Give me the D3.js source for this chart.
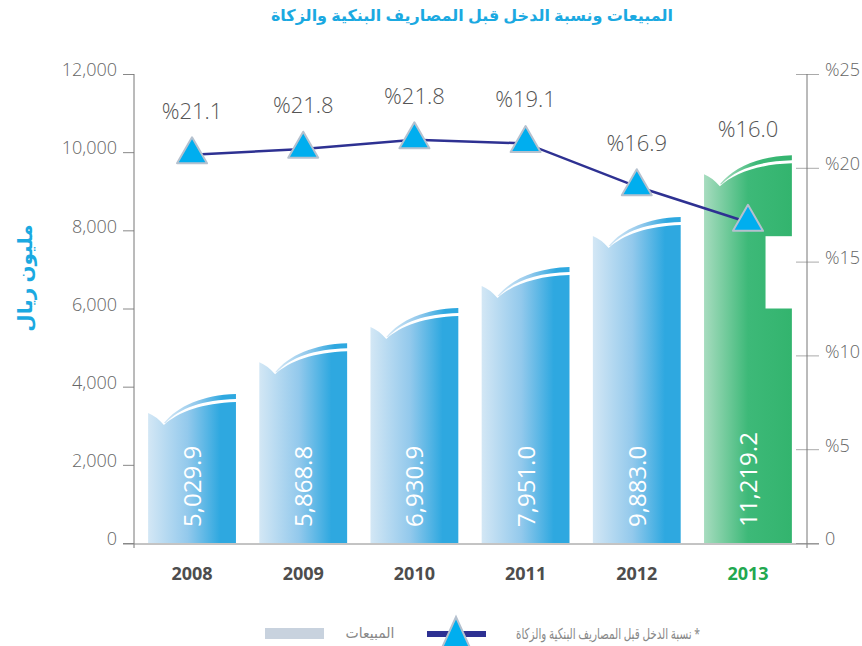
<!DOCTYPE html>
<html>
<head>
<meta charset="utf-8">
<script src="https://cdn.jsdelivr.net/npm/d3@7"></script>
<style>
  body { margin: 0; background: #fff; }
  text { font-family: "Open Sans", "DejaVu Sans", sans-serif; }
  .ar { font-family: "Noto Sans", "DejaVu Sans", sans-serif; }
</style>
</head>
<body>
<div id="chart"></div>
<script>
// data
var years = ["2008", "2009", "2010", "2011", "2012", "2013"];
var sales = [5029.9, 5868.8, 6930.9, 7951.0, 9883.0, 11219.2];
// bar tops as drawn, read on the left axis (the picture does not draw them to scale)
var salesDrawn = [3810, 5110, 6010, 7060, 8340, 9920];
var ratio = [21.1, 21.8, 21.8, 19.1, 16.9, 16.0];
// line points as drawn, read on the right axis
var ratioDrawn = [20.7, 21.0, 21.5, 21.3, 19.0, 17.1];
var leftTicks = [0, 2000, 4000, 6000, 8000, 10000, 12000];
var rightTicks = [0, 5, 10, 15, 20, 25];

var svgWidth = 862;
var svgHeight = 646;

var svg = d3.select("#chart")
  .append("svg")
  .attr("width", svgWidth)
  .attr("height", svgHeight);

var defs = svg.append("defs");

function gradient(id, stops) {
  var g = defs.append("linearGradient")
    .attr("id", id)
    .attr("x1", "0").attr("y1", "0").attr("x2", "1").attr("y2", "0");
  stops.forEach(function(s) {
    g.append("stop").attr("offset", s[0]).attr("stop-color", s[1]);
  });
}
gradient("gBlue", [["0%", "#d3e7f5"], ["45%", "#93c9ec"], ["82%", "#2ea8e0"], ["100%", "#2ea8e0"]]);
gradient("gGreen", [["0%", "#a7dcbf"], ["50%", "#3db978"], ["100%", "#33b46e"]]);

// scales
var x = d3.scaleBand()
  .domain(years)
  .range([137, 803])
  .paddingInner(0.21)
  .paddingOuter(0.1);

var yL = d3.scaleLinear().domain([0, 12000]).range([543, 74]);
var yR = d3.scaleLinear().domain([0, 25]).range([543, 74]);

// title
svg.append("text")
  .attr("class", "ar")
  .attr("x", 472)
  .attr("y", 21)
  .attr("text-anchor", "middle")
  .attr("direction", "rtl")
  .attr("font-size", 16)
  .attr("font-weight", "bold")
  .attr("fill", "#1ba9e1")
  .text("المبيعات ونسبة الدخل قبل المصاريف البنكية والزكاة");

// y axis title
svg.append("text")
  .attr("class", "ar")
  .attr("transform", "translate(32, 278) rotate(-90)")
  .attr("text-anchor", "middle")
  .attr("font-size", 20)
  .attr("font-weight", "bold")
  .attr("fill", "#1ba9e1")
  .text("مليون ريال");

// left axis
var leftAxis = d3.axisLeft(yL)
  .tickValues(leftTicks)
  .tickSizeInner(11)
  .tickSizeOuter(0)
  .tickPadding(6)
  .tickFormat(d3.format(","));

var gl = svg.append("g")
  .attr("transform", "translate(134, 0)")
  .call(leftAxis);
gl.select(".domain").remove();
gl.selectAll(".tick line").attr("stroke", "#888");
gl.selectAll(".tick text")
  .attr("dy", "0.1em")
  .attr("font-size", 18)
  .attr("font-weight", 300)
  .attr("fill", "#666");

svg.append("line")
  .attr("x1", 134).attr("x2", 134)
  .attr("y1", yL(12000)).attr("y2", yL(0) + 5)
  .attr("stroke", "#777");

// right axis
var rightAxis = d3.axisRight(yR)
  .tickValues(rightTicks)
  .tickSizeInner(12)
  .tickSizeOuter(0)
  .tickPadding(6)
  .tickFormat(function(d) { return d === 0 ? "0" : "%" + d; });

var gr = svg.append("g")
  .attr("transform", "translate(807, 0)")
  .call(rightAxis);
gr.select(".domain").remove();
gr.selectAll(".tick line").attr("x1", -11).attr("stroke", "#aaa");
gr.selectAll(".tick text")
  .attr("dy", "0.1em")
  .attr("font-size", 18)
  .attr("font-weight", 300)
  .attr("fill", "#666");

svg.append("line")
  .attr("x1", 807).attr("x2", 807)
  .attr("y1", yR(25)).attr("y2", yR(0) + 5)
  .attr("stroke", "#777");

// bars
var bw = x.bandwidth();

function bodyPath(d, i) {
  var x0 = x(years[i]), x1 = x0 + bw;
  var T = yL(salesDrawn[i]);
  var b = yL(0);
  return "M" + x0 + "," + (T + 19) +
    " Q" + (x0 + bw * 0.09) + "," + (T + 22) + " " + (x0 + bw * 0.18) + "," + (T + 31) +
    " C" + (x0 + bw * 0.34) + "," + (T + 18) + " " + (x0 + bw * 0.62) + "," + (T + 9) + " " + x1 + "," + (T + 8) +
    " L" + x1 + "," + b + " L" + x0 + "," + b + " Z";
}

function sliverPath(d, i) {
  var x0 = x(years[i]), x1 = x0 + bw;
  var T = yL(salesDrawn[i]);
  return "M" + (x0 + bw * 0.18) + "," + (T + 29) +
    " C" + (x0 + bw * 0.34) + "," + (T + 12) + " " + (x0 + bw * 0.62) + "," + (T + 1) + " " + x1 + "," + T +
    " L" + x1 + "," + (T + 5) +
    " C" + (x0 + bw * 0.62) + "," + (T + 6) + " " + (x0 + bw * 0.36) + "," + (T + 14) + " " + (x0 + bw * 0.2) + "," + (T + 29) +
    " Z";
}

function fillOf(d, i) { return i === years.length - 1 ? "url(#gGreen)" : "url(#gBlue)"; }

svg.append("g").selectAll("path")
  .data(salesDrawn)
  .enter()
  .append("path")
  .attr("d", bodyPath)
  .attr("fill", fillOf);

svg.append("g").selectAll("path")
  .data(salesDrawn)
  .enter()
  .append("path")
  .attr("d", sliverPath)
  .attr("fill", fillOf);

// white cut-out on the right of the last bar, as in the picture
svg.append("rect")
  .attr("x", x("2013") + bw * 0.7)
  .attr("y", yL(7850))
  .attr("width", bw * 0.3 + 1)
  .attr("height", yL(6000) - yL(7850))
  .attr("fill", "#fff");

// baseline
svg.append("line")
  .attr("x1", 123).attr("x2", 819)
  .attr("y1", yL(0) + 1).attr("y2", yL(0) + 1)
  .attr("stroke", "#888");

// bar value labels
svg.append("g").selectAll("text")
  .data(sales)
  .enter()
  .append("text")
  .attr("transform", function(d, i) {
    return "translate(" + (x(years[i]) + bw / 2 + 9) + "," + (yL(0) - 16) + ") rotate(-90)";
  })
  .attr("font-size", 24)
  .attr("font-weight", 400)
  .attr("fill", "#fff")
  .text(d3.format(",.1f"));

// year labels
var bottomAxis = d3.axisBottom(x).tickSize(0).tickPadding(23);
var gx = svg.append("g")
  .attr("transform", "translate(0," + (yL(0) + 1) + ")")
  .call(bottomAxis);
gx.select(".domain").remove();
gx.selectAll(".tick text")
  .attr("font-size", 18)
  .attr("font-weight", "bold")
  .attr("fill", function(d) { return d === "2013" ? "#22a84f" : "#4d4d4d"; });

// ratio line
var line = d3.line()
  .x(function(d, i) { return x(years[i]) + bw / 2; })
  .y(function(d) { return yR(d); });

svg.append("path")
  .datum(ratioDrawn)
  .attr("d", line)
  .attr("fill", "none")
  .attr("stroke", "#2e3192")
  .attr("stroke-width", 2.5);

function triangle(cx, cy, w, h) {
  return "M" + cx + "," + (cy - h * 2 / 3) +
    " L" + (cx + w / 2) + "," + (cy + h / 3) +
    " L" + (cx - w / 2) + "," + (cy + h / 3) + " Z";
}

svg.append("g").selectAll("path")
  .data(ratioDrawn)
  .enter()
  .append("path")
  .attr("d", function(d, i) { return triangle(x(years[i]) + bw / 2, yR(d), 30, 26); })
  .attr("fill", "#00aeef")
  .attr("stroke", "#b5c1cf")
  .attr("stroke-width", 2)
  .attr("stroke-linejoin", "round");

// ratio labels
svg.append("g").selectAll("text")
  .data(ratio)
  .enter()
  .append("text")
  .attr("x", function(d, i) { return x(years[i]) + bw / 2; })
  .attr("y", function(d, i) {
    return Math.min(yR(ratioDrawn[i]) - 36, yL(salesDrawn[i]) - 18);
  })
  .attr("text-anchor", "middle")
  .attr("font-size", 22)
  .attr("font-weight", 300)
  .attr("fill", "#555")
  .text(function(d) { return "%" + d.toFixed(1); });

// legend
svg.append("rect")
  .attr("x", 265).attr("y", 628)
  .attr("width", 59).attr("height", 11)
  .attr("fill", "#c8d2de");

svg.append("text")
  .attr("class", "ar")
  .attr("x", 370).attr("y", 638)
  .attr("text-anchor", "middle")
  .attr("direction", "rtl")
  .attr("font-size", 14)
  .attr("fill", "#888")
  .text("المبيعات");

svg.append("line")
  .attr("x1", 427).attr("x2", 486)
  .attr("y1", 634).attr("y2", 634)
  .attr("stroke", "#2e3192")
  .attr("stroke-width", 6);

svg.append("path")
  .attr("d", triangle(456, 639, 30, 33))
  .attr("fill", "#00aeef")
  .attr("stroke", "#b5c1cf")
  .attr("stroke-width", 2);

svg.append("text")
  .attr("class", "ar")
  .attr("x", 608).attr("y", 639)
  .attr("text-anchor", "middle")
  .attr("direction", "rtl")
  .attr("font-size", 15)
  .attr("textLength", 184)
  .attr("lengthAdjust", "spacingAndGlyphs")
  .attr("fill", "#888")
  .text("* نسبة الدخل قبل المصاريف البنكية والزكاة");
</script>
</body>
</html>
